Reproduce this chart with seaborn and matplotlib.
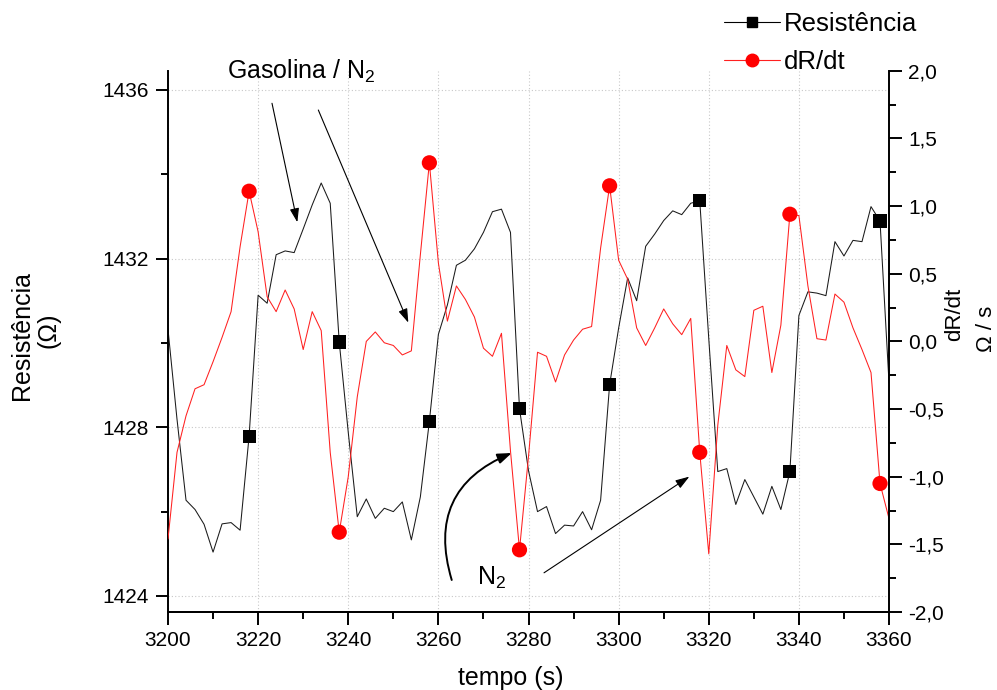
import numpy as np
import pandas as pd
import matplotlib
matplotlib.use("Agg")
import matplotlib.pyplot as plt
from matplotlib.lines import Line2D
from matplotlib.ticker import MultipleLocator, FuncFormatter
import seaborn as sns

# ---------------- data ----------------
time = [3200, 3202, 3204, 3206, 3208, 3210, 3212, 3214, 3216, 3218,
        3220, 3222, 3224, 3226, 3228, 3230, 3232, 3234, 3236, 3238,
        3240, 3242, 3244, 3246, 3248, 3250, 3252, 3254, 3256, 3258,
        3260, 3262, 3264, 3266, 3268, 3270, 3272, 3274, 3276, 3278,
        3280, 3282, 3284, 3286, 3288, 3290, 3292, 3294, 3296, 3298,
        3300, 3302, 3304, 3306, 3308, 3310, 3312, 3314, 3316, 3318,
        3320, 3322, 3324, 3326, 3328, 3330, 3332, 3334, 3336, 3338,
        3340, 3342, 3344, 3346, 3348, 3350, 3352, 3354, 3356, 3358,
        3360]

resistencia = [1430.32, 1428.19, 1426.27, 1426.05, 1425.70, 1425.04, 1425.71, 1425.74, 1425.56, 1427.79,
               1431.13, 1430.94, 1432.09, 1432.18, 1432.14, 1432.70, 1433.27, 1433.79, 1433.31, 1430.02,
               1427.88, 1425.88, 1426.30, 1425.84, 1426.08, 1426.00, 1426.23, 1425.33, 1426.35, 1428.14,
               1430.20, 1430.90, 1431.84, 1431.96, 1432.23, 1432.62, 1433.11, 1433.17, 1432.62, 1428.44,
               1426.97, 1426.00, 1426.12, 1425.48, 1425.68, 1425.66, 1426.00, 1425.57, 1426.27, 1429.01,
               1430.35, 1431.54, 1431.00, 1432.29, 1432.58, 1432.90, 1433.13, 1433.04, 1433.31, 1433.37,
               1430.10, 1426.95, 1427.02, 1426.17, 1426.76, 1426.35, 1425.94, 1426.60, 1426.05, 1426.95,
               1430.65, 1431.21, 1431.18, 1431.12, 1432.40, 1432.06, 1432.43, 1432.40, 1433.23, 1432.89,
               1429.05]

dRdt = [-1.46, -0.82, -0.55, -0.35, -0.32, -0.15, 0.03, 0.22, 0.70, 1.11,
        0.81, 0.33, 0.22, 0.38, 0.24, -0.06, 0.22, 0.08, -0.82, -1.41,
        -1.00, -0.41, 0.00, 0.07, -0.01, -0.03, -0.10, -0.07, 0.64, 1.32,
        0.58, 0.15, 0.41, 0.31, 0.18, -0.05, -0.11, 0.06, -0.81, -1.54,
        -0.85, -0.08, -0.11, -0.30, -0.10, 0.01, 0.09, 0.11, 0.69, 1.15,
        0.60, 0.46, 0.10, -0.03, 0.10, 0.24, 0.13, 0.05, 0.17, -0.82,
        -1.57, -0.62, -0.03, -0.21, -0.26, 0.23, 0.26, -0.23, 0.12, 0.94,
        0.93, 0.41, 0.02, 0.01, 0.35, 0.29, 0.10, -0.06, -0.23, -1.05,
        -1.31]

series_labels = ["Resistência", "dR/dt"]
x_label = "tempo (s)"
left_label = ["Resistência", "(Ω)"]
right_label = ["dR/dt", "Ω / s"]

df = pd.DataFrame({"tempo": time, "R": resistencia, "dR": dRdt})
marks = df.iloc[9::10]

# ---------------- style ----------------
sns.set_style("white")
plt.rcParams["font.family"] = ["Liberation Sans", "DejaVu Sans"]
plt.rcParams["mathtext.fontset"] = "custom"
plt.rcParams["mathtext.rm"] = "Liberation Sans"
plt.rcParams["mathtext.it"] = "Liberation Sans:italic"
plt.rcParams["text.color"] = "black"
plt.rcParams["axes.labelcolor"] = "black"
plt.rcParams["xtick.color"] = "black"
plt.rcParams["ytick.color"] = "black"

fig = plt.figure(figsize=(9.97, 6.9), dpi=100)
ax = fig.add_axes([0.1685, 0.113, 0.7232, 0.7844])
ax2 = ax.twinx()

# black resistance line + square markers
sns.lineplot(data=df, x="tempo", y="R", ax=ax, color="#1a1a1a", lw=0.75, legend=False)
sns.scatterplot(data=marks, x="tempo", y="R", ax=ax, color="black", marker="s",
                s=90, edgecolor="none", legend=False, zorder=5)
# red derivative line + circle markers
sns.lineplot(data=df, x="tempo", y="dR", ax=ax2, color="#ff2020", lw=0.75, legend=False)
sns.scatterplot(data=marks, x="tempo", y="dR", ax=ax2, color="#ff0000", marker="o",
                s=120, edgecolor="none", legend=False, zorder=5)

# axes limits & ticks
ax.set_xlim(3200, 3360)
ax.set_ylim(1423.62, 1436.45)
ax2.set_ylim(-2.0, 2.0)
ax.xaxis.set_major_locator(MultipleLocator(20))
ax.xaxis.set_minor_locator(MultipleLocator(10))
ax.yaxis.set_major_locator(MultipleLocator(4))
ax.yaxis.set_minor_locator(MultipleLocator(2))
ax2.yaxis.set_major_locator(MultipleLocator(0.5))
ax2.yaxis.set_minor_locator(MultipleLocator(0.25))
ax2.yaxis.set_major_formatter(FuncFormatter(lambda v, p: f"{v:.1f}".replace(".", ",")))

for a in (ax, ax2):
    a.set_xlabel("")
    a.set_ylabel("")
    a.spines["top"].set_visible(False)
    for s in a.spines.values():
        s.set_linewidth(1.4)
        s.set_color("black")
ax.spines["right"].set_visible(False)
ax2.spines["left"].set_visible(False)

ax.tick_params(axis="both", which="major", direction="out", length=9, width=1.4,
               labelsize=15, pad=5, colors="black")
ax.tick_params(axis="both", which="minor", direction="out", length=5, width=1.4)
ax.tick_params(axis="y", right=False, left=True, which="both")
ax.tick_params(axis="x", bottom=True, which="both")
ax2.tick_params(axis="y", which="major", direction="out", length=9, width=1.4,
                labelsize=15, pad=5, right=True, colors="black")
ax2.tick_params(axis="y", which="minor", direction="out", length=5, width=1.4, right=True)

ax.grid(True, which="major", linestyle=(0, (1, 2)), color="#c8c8c8", lw=0.8)
ax2.grid(False)
ax.set_axisbelow(True)

# axis labels
fig.text(0.5125, 0.017, x_label, ha="center", va="center", fontsize=18, color="black")
fig.text(22 / 997, 0.514, left_label[0], rotation=90, ha="center", va="center", fontsize=18, color="black")
fig.text(48 / 997, 0.521, left_label[1], rotation=90, ha="center", va="center", fontsize=18, color="black")
fig.text(955 / 997, 0.545, right_label[0], rotation=90, ha="center", va="center", fontsize=16, color="black")
fig.text(986 / 997, 0.524, right_label[1], rotation=90, ha="center", va="center", fontsize=16, color="black")

# legend
handles = [Line2D([], [], color="black", lw=0.8, marker="s", ms=7, mec="black"),
           Line2D([], [], color="#ff2020", lw=0.8, marker="o", ms=9, mfc="#ff0000", mec="#ff0000")]
leg = fig.legend(handles, series_labels, loc="upper left", bbox_to_anchor=(0.726, 0.983),
                 frameon=False, fontsize=18.5, handlelength=2.2, handletextpad=0.15,
                 labelspacing=0.55, borderpad=0, borderaxespad=0)
for t in leg.get_texts():
    t.set_color("black")

# annotations
ax.text(3213.1, 1436.26, "Gasolina / N$_2$", fontsize=18, ha="left", va="baseline", color="black")
thin = dict(arrowstyle="-|>,head_length=0.6,head_width=0.2", color="black", lw=0.8,
            mutation_scale=14, shrinkA=0, shrinkB=0)
ax.annotate("", xy=(3228.70, 1432.86), xytext=(3223.08, 1435.68), arrowprops=thin)
ax.annotate("", xy=(3253.33, 1430.48), xytext=(3233.36, 1435.52), arrowprops=thin)

ax.text(3268.6, 1424.26, "N$_2$", fontsize=18, ha="left", va="baseline", color="black")
curved = dict(arrowstyle="-|>,head_length=0.6,head_width=0.22", color="black", lw=1.4,
              mutation_scale=14, shrinkA=0, shrinkB=0, connectionstyle="arc3,rad=-0.45")
ax.annotate("", xy=(3276.28, 1427.39), xytext=(3262.96, 1424.38), arrowprops=curved)
ax.annotate("", xy=(3315.69, 1426.83), xytext=(3283.44, 1424.55), arrowprops=thin)

fig.savefig("out.png", dpi=100)
